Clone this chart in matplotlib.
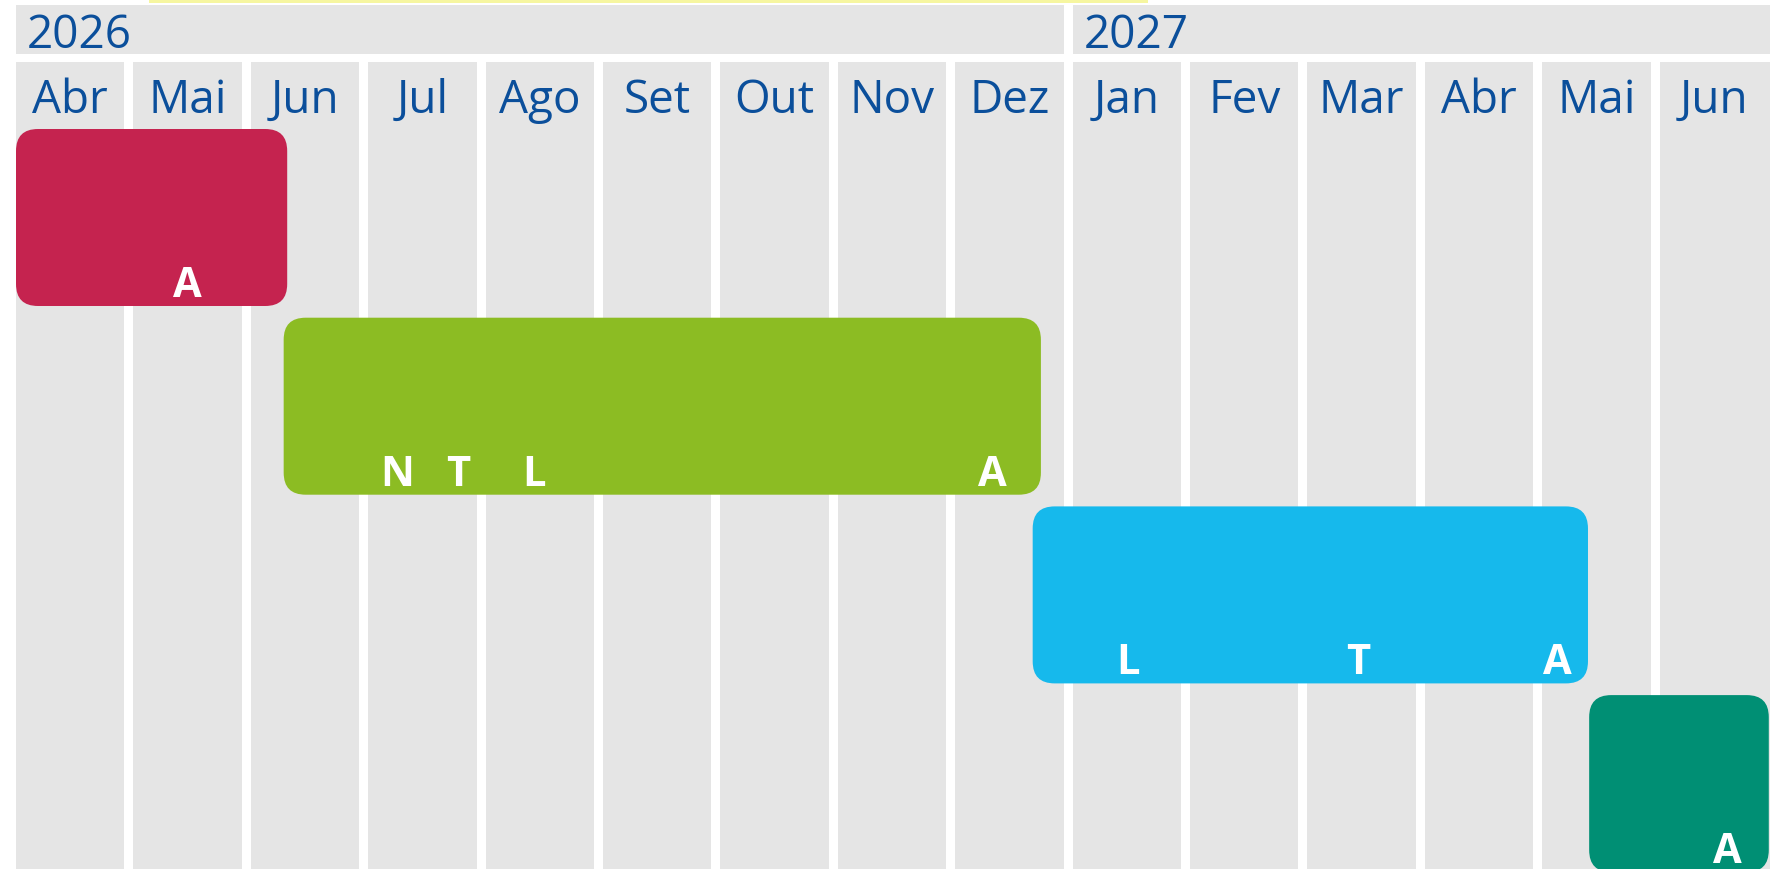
import matplotlib
matplotlib.use("Agg")
import matplotlib.pyplot as plt
from matplotlib.patches import Rectangle, FancyBboxPatch

# ---- data ----
months = ["Abr", "Mai", "Jun", "Jul", "Ago", "Set", "Out", "Nov", "Dez",
          "Jan", "Fev", "Mar", "Abr", "Mai", "Jun"]
years = ["2026", "2027"]
year_start = [0, 9]          # month index where each year begins
year_end = [9, 15]           # month index where each year ends (exclusive)

bar_start = [0.0, 2.28, 8.66, 13.40]     # in months from Abr 2026
bar_end = [2.31, 8.73, 13.39, 14.93]
bar_colors = ["#c5234f", "#8cbc23", "#16b9ec", "#008f74"]

marker_labels = [["A"], ["N", "T", "L", "A"], ["L", "T", "A"], ["A"]]
marker_pos = [[1.46], [3.25, 3.77, 4.41, 8.32], [9.47, 11.43, 13.13], [14.58]]

# ---- layout ----
W, H, DPI = 17.7, 8.7, 100
PX_PER_MONTH = 117.4
PX_PER_ROW = 188.7
X0_PX = 16.0       # pixel x of month 0
Y0_PX = 130.0      # pixel y of row 0 top

def px_to_r(p):
    return (p - Y0_PX) / PX_PER_ROW

GRAY = "#e5e5e5"
TEXT_BLUE = "#0b4f9b"
COL_W = 108.4 / PX_PER_MONTH
BAR_H = 177.0 / PX_PER_ROW

fig = plt.figure(figsize=(W, H), dpi=DPI)
fig.patch.set_facecolor("white")
ax = fig.add_axes([0, 0, 1, 1])
ax.set_xlim(-X0_PX / PX_PER_MONTH, (W * DPI - X0_PX) / PX_PER_MONTH)
ax.set_ylim(px_to_r(H * DPI), px_to_r(0))
ax.axis("off")

# faint yellow stripe at top
fig.patches.append(Rectangle((149 / (W * DPI), 1 - 4 / (H * DPI)),
                             (1148 - 149) / (W * DPI), 4 / (H * DPI),
                             transform=fig.transFigure, facecolor="#f6f6a0",
                             edgecolor="none", zorder=0))

# year bands
yb_top, yb_bot = px_to_r(6), px_to_r(55)
for y, s, e in zip(years, year_start, year_end):
    right = e - 1 + COL_W if e < len(months) else e + 0.5
    ax.add_patch(Rectangle((s, yb_top), right - s, yb_bot - yb_top,
                           facecolor=GRAY, edgecolor="none", zorder=1))
    ax.text(s + 11 / PX_PER_MONTH, px_to_r(48), y, color=TEXT_BLUE,
            fontsize=33, family="Open Sans", ha="left", va="baseline", zorder=3)

# month columns
col_top = px_to_r(63)
col_bot = px_to_r(H * DPI + 5)
for i, m in enumerate(months):
    w = COL_W if i < len(months) - 1 else 1.0
    ax.add_patch(Rectangle((i, col_top), w, col_bot - col_top,
                           facecolor=GRAY, edgecolor="none", zorder=1))
    ax.text(i + COL_W / 2, px_to_r(113), m, color=TEXT_BLUE,
            fontsize=33, family="Open Sans", ha="center", va="baseline", zorder=3)

# bars
rad_x = 22 / PX_PER_MONTH
aspect = PX_PER_MONTH / PX_PER_ROW
for r, (s, e, c) in enumerate(zip(bar_start, bar_end, bar_colors)):
    ax.add_patch(FancyBboxPatch((s, r), e - s, BAR_H,
                                boxstyle=f"round,pad=0,rounding_size={rad_x}",
                                mutation_aspect=aspect,
                                facecolor=c, edgecolor="none", zorder=2))
    for lab, xpos in zip(marker_labels[r], marker_pos[r]):
        ax.text(xpos, r + BAR_H - 10 / PX_PER_ROW, lab, color="white",
                fontsize=30, fontweight="bold", family="Open Sans",
                ha="center", va="baseline", zorder=3)

fig.savefig("out.png", dpi=DPI, facecolor="white")
